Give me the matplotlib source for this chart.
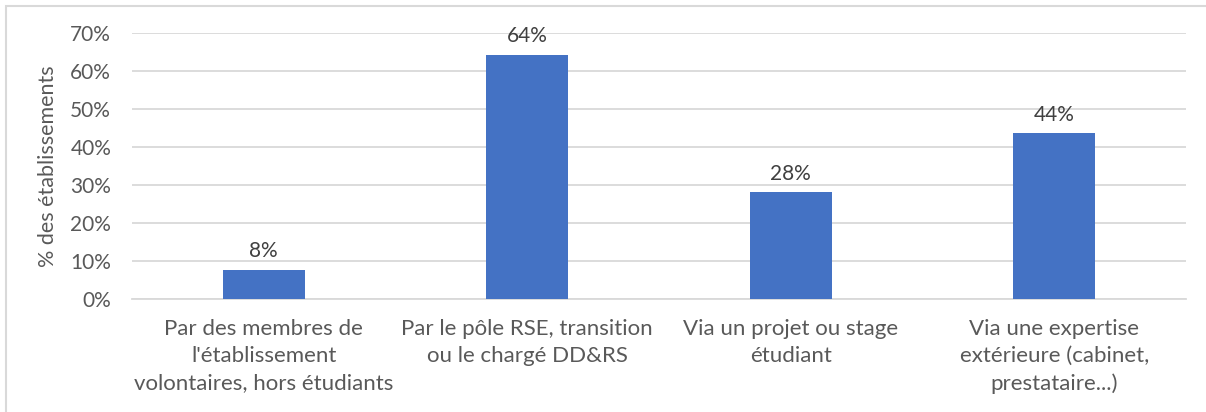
import matplotlib.pyplot as plt
from matplotlib.patches import Rectangle
from matplotlib.ticker import PercentFormatter

categories = [
    "Par des membres de\nl'établissement\nvolontaires, hors étudiants",
    "Par le pôle RSE, transition\nou le chargé DD&RS",
    "Via un projet ou stage\nétudiant",
    "Via une expertise\nextérieure (cabinet,\nprestataire...)",
]
values = [0.078, 0.642, 0.282, 0.436]
labels = ["8%", "64%", "28%", "44%"]

plt.rcParams['font.family'] = ['Lato', 'DejaVu Sans']
grey = '#595959'

fig = plt.figure(figsize=(12.06, 4.12), dpi=100)
ax = fig.add_axes([132 / 1206, 1 - 299.3 / 412, (1186 - 132) / 1206, (299.3 - 32.7) / 412])

x = range(len(categories))
bars = ax.bar(x, values, width=0.31, color='#4472C4', zorder=3)
for b, lab in zip(bars, labels):
    ax.annotate(lab, (b.get_x() + b.get_width() / 2, b.get_height()),
                xytext=(0, 6), textcoords='offset points',
                ha='center', va='bottom', fontsize=15, color='#404040')

ax.set_xlim(-0.5, len(categories) - 0.5)
ax.set_ylim(0, 0.7)
ax.set_yticks([i / 10 for i in range(8)])
ax.yaxis.set_major_formatter(PercentFormatter(1.0, decimals=0))
ax.grid(axis='y', color='#D9D9D9', linewidth=1.3, zorder=0)
for s in ['top', 'right', 'left']:
    ax.spines[s].set_visible(False)
ax.spines['bottom'].set_color('#D9D9D9')
ax.spines['bottom'].set_linewidth(1.3)
ax.tick_params(axis='y', length=0, labelsize=15, colors=grey, pad=15)
ax.tick_params(axis='x', length=0, labelsize=16, colors=grey, pad=14)
ax.set_xticks(list(x))
ax.set_xticklabels(categories, linespacing=1.45)
ax.set_ylabel('% des établissements', fontsize=15.5, color=grey, labelpad=9)

fig.patches.append(Rectangle((6 / 1206, -0.05), 1.1, 1 - 6 / 412 + 0.05,
                             transform=fig.transFigure, fill=False,
                             edgecolor='#D9D9D9', linewidth=1.5))

fig.savefig('out.png', dpi=100)
